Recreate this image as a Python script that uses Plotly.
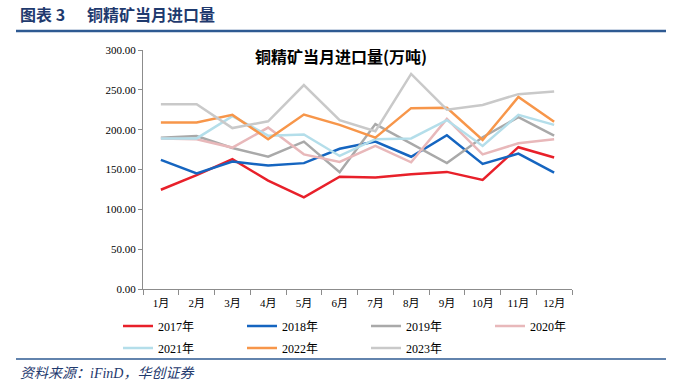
import plotly.graph_objects as go

months = ["1月", "2月", "3月", "4月", "5月", "6月", "7月", "8月", "9月", "10月", "11月", "12月"]

y2017 = [124.6, 143, 163, 136, 115, 141, 140, 144, 147, 137, 178, 165]
y2018 = [162, 145, 160, 155, 158, 176, 185, 166, 193, 157, 170, 146]
y2019 = [190, 192, 177, 166, 185, 146.5, 207, 182, 158, 190.5, 215.6, 192.5]
y2020 = [189, 188, 177.5, 202.6, 169, 159.4, 179.6, 159, 213.5, 169, 183, 188]
y2021 = [189, 189, 217, 192.5, 194, 167, 188, 189, 212, 179.6, 218.6, 206]
y2022 = [209, 209, 218.6, 188, 219, 206, 190, 227, 227.4, 187, 241, 210]
y2023 = [232, 232, 202, 210.5, 256, 212, 198, 270, 225, 231, 244.6, 248]

series = [
    ("2017年", y2017, "#E8202A", "legend"),
    ("2018年", y2018, "#1565C0", "legend"),
    ("2019年", y2019, "#A9A9A9", "legend"),
    ("2020年", y2020, "#E8B8BA", "legend"),
    ("2021年", y2021, "#B4DEEA", "legend2"),
    ("2022年", y2022, "#F7964A", "legend2"),
    ("2023年", y2023, "#C9C9C9", "legend2"),
]

W, H = 686, 384
L, R, T, B = 143, 572, 50, 289


def px(x):
    return (x - L) / (R - L)


def py(y):
    return (B - y) / (B - T)


fig = go.Figure()
for name, vals, color, lg in series:
    fig.add_trace(go.Scatter(
        x=months, y=vals, name=name, mode="lines",
        line=dict(color=color, width=2.5), legend=lg,
    ))

serif = "Liberation Serif, Times New Roman, Noto Sans CJK SC, serif"
cjk = "Noto Sans CJK SC, sans-serif"
navy = "#1F3A6E"

legend_common = dict(
    orientation="h", xanchor="left", yanchor="middle",
    entrywidth=79, entrywidthmode="pixels", itemwidth=30,
    font=dict(family=serif, size=12, color="#000"),
    bgcolor="rgba(0,0,0,0)", tracegroupgap=0,
)

fig.update_layout(
    width=W, height=H,
    margin=dict(l=L, r=W - R, t=T, b=H - B, autoexpand=False),
    paper_bgcolor="white", plot_bgcolor="white",
    font=dict(family=serif, size=11, color="#000000"),
    showlegend=True,
    xaxis=dict(
        type="category", range=[-0.5, len(months) - 0.5],
        showgrid=False, zeroline=False,
        showline=True, linecolor="#8C8C8C", linewidth=1,
        ticks="outside", tickson="boundaries", ticklen=5, tickcolor="#8C8C8C",
        ticklabelstandoff=4,
        tickfont=dict(family=serif, size=11, color="#000"),
    ),
    yaxis=dict(
        range=[0, 300], dtick=50, tickformat=".2f",
        showgrid=False, zeroline=False,
        showline=True, linecolor="#8C8C8C", linewidth=1,
        ticks="outside", ticklen=4, tickcolor="#8C8C8C",
        tickfont=dict(family=serif, size=11, color="#000"),
    ),
    legend=dict(x=px(118), y=py(326), **legend_common),
    legend2=dict(x=px(118), y=py(348), **legend_common),
)

fig.add_annotation(
    text="<b>铜精矿当月进口量(万吨)</b>", x=px(341), y=py(56),
    xref="paper", yref="paper", xanchor="center", yanchor="middle",
    showarrow=False, font=dict(family=cjk, size=16, color="#000"),
)
fig.add_annotation(
    text="<b>图表 3</b>", x=px(18), y=py(14),
    xref="paper", yref="paper", xanchor="left", yanchor="middle",
    showarrow=False, font=dict(family=cjk, size=16, color=navy),
)
fig.add_annotation(
    text="<b>铜精矿当月进口量</b>", x=px(85), y=py(14),
    xref="paper", yref="paper", xanchor="left", yanchor="middle",
    showarrow=False, font=dict(family=cjk, size=16, color=navy),
)
fig.add_annotation(
    text="<i>资料来源：iFinD，华创证券</i>", x=px(18), y=py(373),
    xref="paper", yref="paper", xanchor="left", yanchor="middle",
    showarrow=False, font=dict(family=serif, size=14, color=navy),
)
fig.add_shape(type="line", xref="paper", yref="paper",
              x0=px(16), x1=px(666), y0=py(31), y1=py(31),
              line=dict(color="#2E5A92", width=2.5))
fig.add_shape(type="line", xref="paper", yref="paper",
              x0=px(16), x1=px(666), y0=py(359), y1=py(359),
              line=dict(color="#2E5A92", width=1.5))

fig.write_html(
    "out.html",
    config={"displayModeBar": False},
    post_script="document.body.style.margin='0';document.body.style.overflow='hidden';",
)
